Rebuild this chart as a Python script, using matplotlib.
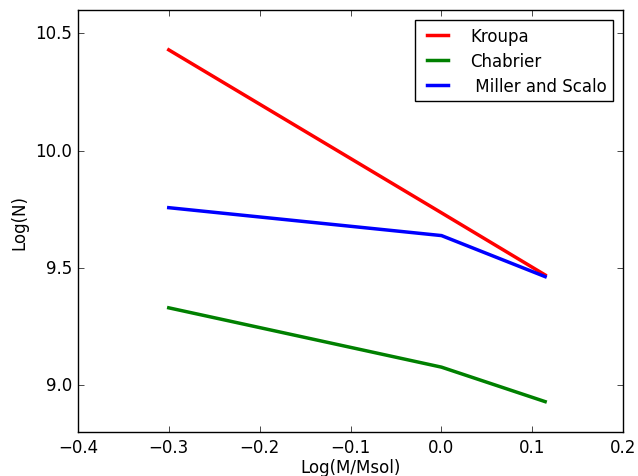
import matplotlib
matplotlib.use("Agg")
import matplotlib.pyplot as plt

plt.style.use("classic")

log_m = [-0.3, 0.0, 0.114]
kroupa = [10.43, 9.735, 9.47]
chabrier = [9.33, 9.077, 8.93]
miller_scalo = [9.757, 9.638, 9.463]
series_labels = ["Kroupa", "Chabrier", " Miller and Scalo"]

fig = plt.figure(figsize=(6.38, 4.77), dpi=100, facecolor="white")
ax = fig.add_axes([0.122, 0.092, 0.855, 0.885])
ax.plot(log_m, kroupa, color="red", lw=2.5, label=series_labels[0])
ax.plot(log_m, chabrier, color="green", lw=2.5, label=series_labels[1])
ax.plot(log_m, miller_scalo, color="blue", lw=2.5, label=series_labels[2])
ax.set_xlim(-0.4, 0.2)
ax.set_ylim(8.8, 10.6)
ax.set_xticks([-0.4, -0.3, -0.2, -0.1, 0.0, 0.1, 0.2])
ax.set_yticks([9.0, 9.5, 10.0, 10.5])
ax.set_xlabel("Log(M/Msol)", labelpad=2)
ax.set_ylabel("Log(N)")
ax.legend(loc="upper right", fontsize=12, handlelength=1.9, handletextpad=1.0,
          labelspacing=0.42, borderaxespad=0.6)
fig.savefig("out.png", dpi=100, facecolor="white")
